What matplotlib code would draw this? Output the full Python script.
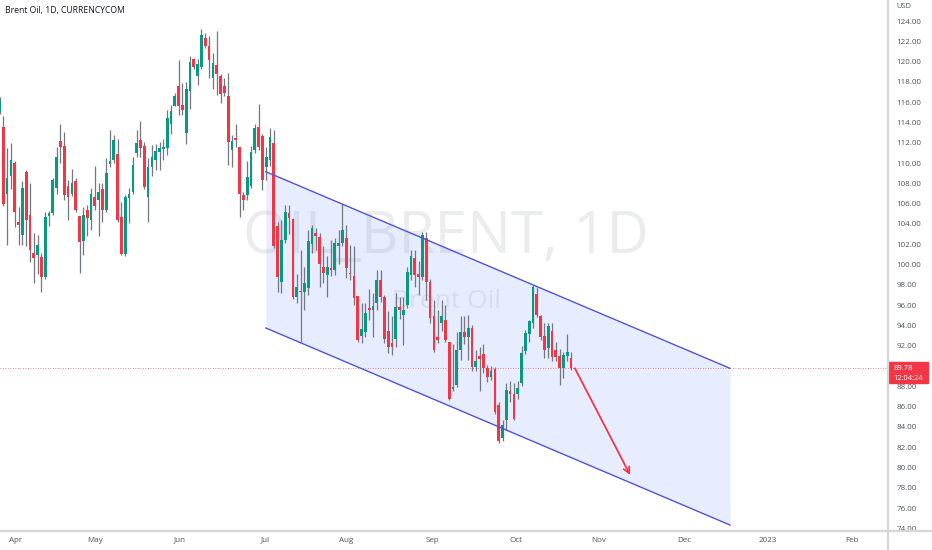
import numpy as np
import matplotlib
matplotlib.use("Agg")
import matplotlib.pyplot as plt
import matplotlib.transforms as mtransforms
from matplotlib.patches import Rectangle
from matplotlib.lines import Line2D

plt.rcParams['font.family'] = ['Open Sans', 'DejaVu Sans']

# daily candles, Brent Oil, one row per bar: open, high, low, close
opens = [115.0, 113.6, 107.0, 108.7, 110.0, 104.2, 102.9, 109.1, 104.9, 101.1,
         100.9, 100.7, 98.8, 104.8, 105.1, 107.5, 112.2, 111.7, 107.7, 107.0,
         108.2, 104.8, 102.3, 105.4, 104.4, 106.7, 106.4, 107.4, 105.4, 109.9,
         110.3, 110.9, 104.7, 101.0, 106.6, 107.2, 111.0, 112.3, 111.7, 106.7,
         109.6, 110.3, 111.1, 111.4, 111.5, 113.9, 115.6, 117.6, 115.7, 113.0,
         117.1, 120.3, 118.6, 119.5, 122.3, 121.5, 118.4, 119.7, 118.6, 117.6,
         116.6, 111.3, 112.5, 111.6, 106.9, 106.9, 107.7, 111.3, 113.6, 112.7,
         109.6, 110.3, 112.0, 103.8, 98.3, 102.4, 105.1, 104.5, 96.8, 97.4,
         97.3, 97.7, 102.0, 103.1, 102.7, 99.8, 99.0, 99.6, 99.5, 101.8,
         102.1, 102.6, 99.2, 98.9, 96.9, 93.0, 93.4, 95.7, 95.5, 96.2,
         98.5, 96.8, 93.5, 92.3, 92.7, 95.8, 95.0, 96.0, 99.0, 100.6,
         99.1, 98.8, 102.6, 98.3, 94.9, 92.9, 94.2, 94.5, 92.4, 87.7,
         88.1, 91.6, 93.4, 92.9, 93.8, 89.9, 91.0, 91.2, 89.8, 88.9,
         89.7, 86.2, 82.9, 84.7, 87.5, 87.2, 87.2, 88.3, 91.5, 93.2,
         94.2, 97.1, 94.9, 93.0, 91.8, 93.5, 91.6, 91.0, 89.8, 91.0,
         90.8]
highs = [116.5, 114.6, 111.5, 112.0, 110.2, 105.7, 108.2, 109.3, 108.0, 103.1,
         102.9, 101.1, 105.2, 105.3, 108.5, 111.6, 113.9, 113.1, 108.3, 109.4,
         108.5, 104.8, 105.7, 105.9, 107.5, 109.7, 108.0, 108.0, 110.5, 113.3,
         112.8, 112.4, 106.2, 106.9, 107.5, 110.6, 113.3, 114.1, 112.1, 110.5,
         111.8, 111.9, 112.1, 112.4, 115.2, 115.7, 116.9, 120.2, 117.9, 118.0,
         120.6, 120.4, 120.3, 123.2, 122.8, 122.5, 120.8, 123.0, 118.8, 118.4,
         118.9, 112.8, 113.9, 111.6, 107.2, 110.2, 111.7, 113.9, 115.8, 112.9,
         111.6, 113.5, 113.3, 104.2, 104.4, 105.9, 105.9, 104.6, 99.1, 101.4,
         99.8, 103.4, 103.9, 103.6, 103.1, 101.8, 100.8, 102.4, 102.6, 103.4,
         106.1, 103.9, 101.9, 101.8, 96.9, 96.2, 96.2, 97.6, 97.2, 99.5,
         99.5, 97.0, 95.4, 94.9, 97.2, 96.8, 96.8, 99.8, 101.4, 101.4,
         100.4, 103.2, 103.2, 98.6, 96.5, 95.5, 96.5, 96.0, 92.4, 92.2,
         93.4, 94.9, 94.9, 95.0, 94.0, 91.6, 91.9, 92.2, 90.1, 90.0,
         89.9, 86.5, 84.7, 88.3, 88.5, 88.3, 88.5, 92.0, 93.6, 94.5,
         98.0, 97.8, 95.0, 94.2, 94.2, 94.2, 92.4, 91.7, 91.4, 93.2,
         91.4]
lows = [114.8, 105.8, 101.9, 107.4, 103.7, 101.9, 101.9, 101.8, 100.3, 98.2,
        99.1, 97.3, 98.6, 103.8, 104.9, 107.0, 110.0, 106.4, 104.4, 106.8,
        105.2, 99.2, 100.9, 102.8, 103.4, 105.4, 102.8, 104.2, 105.2, 109.6,
        110.0, 104.2, 100.9, 100.8, 104.1, 107.0, 110.6, 110.6, 107.4, 104.2,
        108.7, 109.3, 109.3, 110.3, 110.8, 112.9, 115.6, 114.7, 114.7, 111.9,
        115.3, 119.3, 117.7, 119.3, 121.3, 118.4, 117.3, 116.7, 115.9, 116.6,
        109.8, 109.6, 111.6, 104.7, 105.4, 106.4, 107.5, 111.0, 111.3, 107.3,
        108.3, 109.7, 101.6, 97.3, 97.2, 102.1, 103.0, 96.6, 96.2, 92.4,
        95.5, 97.0, 101.1, 101.4, 97.8, 98.2, 96.8, 98.9, 99.0, 100.1,
        101.8, 98.7, 98.5, 96.0, 92.4, 92.3, 92.9, 94.5, 92.9, 95.5,
        96.3, 92.3, 91.3, 91.1, 91.9, 94.6, 92.1, 95.7, 98.5, 97.8,
        97.0, 98.5, 96.5, 94.2, 91.4, 92.3, 93.5, 92.4, 86.7, 87.5,
        87.9, 90.6, 92.2, 90.6, 89.5, 89.5, 87.5, 89.3, 88.4, 88.6,
        85.3, 82.4, 82.6, 83.7, 86.5, 84.7, 86.8, 88.0, 91.2, 92.4,
        93.8, 94.8, 92.6, 90.8, 90.8, 90.5, 90.5, 88.1, 88.8, 90.5,
        89.6]
closes = [116.1, 106.0, 108.5, 110.3, 105.2, 103.9, 107.5, 104.4, 101.4, 100.6,
          101.9, 98.8, 104.7, 105.1, 108.3, 110.6, 111.6, 106.9, 106.7, 108.0,
          105.4, 102.2, 104.9, 104.6, 107.0, 105.8, 107.2, 105.4, 109.0, 110.2,
          112.3, 104.4, 101.0, 106.7, 107.0, 109.8, 112.0, 111.5, 107.6, 109.6,
          110.6, 111.2, 111.5, 111.6, 114.4, 115.1, 116.6, 115.6, 115.2, 117.3,
          120.0, 119.5, 119.8, 122.6, 121.5, 120.2, 119.9, 118.8, 116.8, 116.9,
          112.1, 112.2, 112.3, 107.0, 106.4, 108.6, 111.1, 113.5, 111.6, 108.3,
          110.6, 112.6, 101.8, 98.8, 102.4, 105.2, 104.6, 96.8, 97.8, 97.3,
          98.2, 102.3, 103.6, 102.8, 100.1, 99.2, 99.8, 99.5, 102.1, 102.1,
          103.4, 99.7, 99.1, 96.7, 92.6, 93.7, 95.2, 95.5, 95.9, 98.5,
          96.8, 92.7, 91.9, 91.9, 95.8, 95.5, 95.5, 99.3, 100.8, 99.0,
          98.8, 102.9, 98.3, 94.7, 91.6, 92.6, 94.9, 92.6, 86.8, 87.9,
          91.6, 93.4, 92.9, 93.8, 89.9, 90.5, 90.7, 89.8, 88.9, 89.5,
          85.5, 82.6, 84.2, 87.6, 87.2, 84.8, 87.8, 91.3, 93.3, 94.4,
          97.8, 95.0, 92.9, 91.6, 93.9, 90.9, 90.9, 89.8, 91.1, 91.4,
          89.78]

last_price = 89.78
countdown = "12:04:24"

# drawings: parallel channel and the arrow (bar index, price)
channel_x = [69.9, 191.7]
channel_upper = [109.15, 89.78]
channel_lower = [93.75, 74.34]
arrow_x = [151.0, 165.5]
arrow_y = [89.78, 79.27]

month_pos = [4.1, 25.1, 47.4, 69.7, 90.9, 113.5, 135.6, 157.3, 179.7, 201.7, 223.8]
month_labels = ['Apr', 'May', 'Jun', 'Jul', 'Aug', 'Sep', 'Oct', 'Nov', 'Dec', '2023', 'Feb']
price_ticks = np.arange(74, 125, 2)

green = '#089981'
red = '#f23645'
wick = '#737780'
label_col = '#50535e'

fig = plt.figure(figsize=(9.32, 5.5), dpi=100)
ax = fig.add_axes([0, 19 / 550, 887 / 932, 531 / 550])

o = np.array(opens)
h = np.array(highs)
l = np.array(lows)
c = np.array(closes)
idx = np.arange(len(o))
up = c >= o
cols = np.where(up, green, red)

# watermark
ax.text(0.503, 0.553, 'OIL_BRENT, 1D', transform=ax.transAxes, ha='center', va='center',
        fontsize=42, color='#868993', alpha=0.16, zorder=0)
ax.text(0.503, 0.433, 'Brent Oil', transform=ax.transAxes, ha='center', va='center',
        fontsize=19, color='#868993', alpha=0.16, zorder=0)

# channel
ax.fill_between(channel_x, channel_lower, channel_upper, color='#2962ff', alpha=0.11,
                lw=0, zorder=1)
ax.plot(channel_x, channel_upper, color='#5252d9', lw=1.0, zorder=4)
ax.plot(channel_x, channel_lower, color='#5252d9', lw=1.0, zorder=4)

# candles
ax.vlines(idx, l, h, color=wick, lw=0.9, zorder=2)
body_h = np.maximum(np.abs(c - o), 0.12)
ax.bar(idx, body_h, bottom=np.minimum(o, c), width=0.72, color=cols, lw=0, zorder=3)

# last price line
ax.axhline(last_price, color=red, lw=0.6, ls=(0, (1, 2)), alpha=0.8, zorder=2)

# arrow
ax.annotate('', xy=(arrow_x[1], arrow_y[1]), xytext=(arrow_x[0], arrow_y[0]),
            arrowprops=dict(arrowstyle='->', color=red, lw=1.3, mutation_scale=11,
                            shrinkA=0, shrinkB=0), zorder=5)

ax.set_xlim(0.131, 232.9)
ax.set_ylim(73.75, 126.07)

ax.yaxis.tick_right()
ax.set_yticks(price_ticks)
ax.set_yticklabels([f'{p:.2f}' for p in price_ticks])
ax.set_xticks(month_pos)
ax.set_xticklabels(month_labels)
ax.tick_params(axis='y', length=0, pad=7, labelsize=5.8, labelcolor=label_col)
ax.tick_params(axis='x', length=0, pad=4, labelsize=5.8, labelcolor=label_col)
for s in ['top', 'left', 'right', 'bottom']:
    ax.spines[s].set_visible(False)

# price label box on the scale
blend = mtransforms.blended_transform_factory(ax.transAxes, ax.transData)
ax.add_patch(Rectangle((1.0015, 88.33), 0.045, 2.07, transform=blend, color=red,
                       clip_on=False, zorder=6))
ax.text(1.0075, last_price, f'{last_price:.2f}', transform=blend, ha='left', va='center',
        fontsize=5.6, color='white', clip_on=False, zorder=7)
ax.text(1.0075, last_price - 0.98, countdown, transform=blend, ha='left', va='center',
        fontsize=5.3, color='white', clip_on=False, zorder=7)

# scale separators
fig.add_artist(Line2D([887.5 / 932, 887.5 / 932], [0, 1], color='#d6d6d9', lw=1.6))
fig.add_artist(Line2D([0, 1], [19 / 550, 19 / 550], color='#d6d6d9', lw=1.6))

fig.text(5 / 932, 1 - 10 / 550, 'Brent Oil, 1D, CURRENCYCOM', ha='left', va='center',
         fontsize=6.2, color='#131722')
fig.text(896 / 932, 1 - 7 / 550, 'USD', ha='left', va='center', fontsize=5.4, color=label_col)

fig.savefig('out.png', dpi=100)
